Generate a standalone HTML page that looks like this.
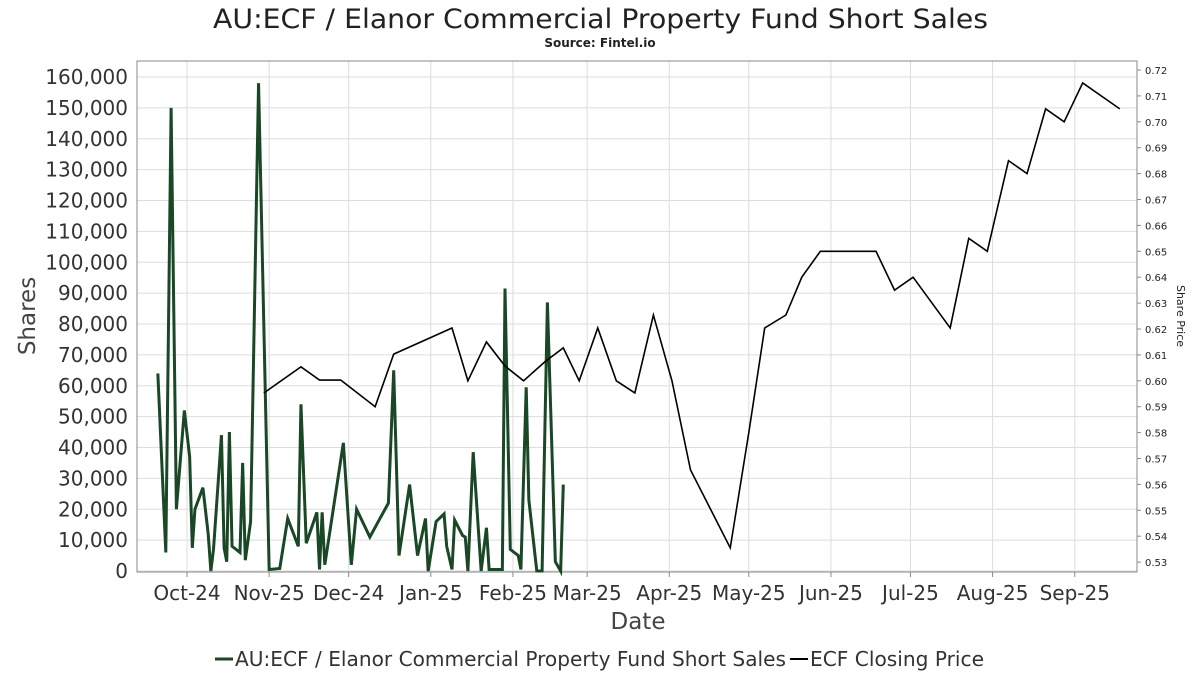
<!DOCTYPE html>
<html><head><meta charset="utf-8"><style>
body{margin:0;background:#fff;}
svg text{font-family:"DejaVu Sans","Liberation Sans",sans-serif;}
</style></head><body>
<svg id="c" width="1200" height="675">
<text x="213" y="28" textLength="775" lengthAdjust="spacingAndGlyphs" font-size="27" fill="#222">AU:ECF / Elanor Commercial Property Fund Short Sales</text>
<text x="600" y="47" text-anchor="middle" font-size="12" font-weight="bold" fill="#222">Source: Fintel.io</text>
<g id="grid"></g>
<rect x="137" y="61" width="1000" height="511" fill="none" stroke="#888"/>
<g id="marks"></g>
<g id="axes"></g>
<text transform="translate(35,316) rotate(-90)" text-anchor="middle" font-size="23" fill="#444">Shares</text>
<text transform="translate(1177,316) rotate(90)" text-anchor="middle" font-size="11" fill="#222">Share Price</text>
<text x="638" y="629" text-anchor="middle" font-size="23" fill="#444">Date</text>
<g>
<line x1="215" y1="659" x2="233" y2="659" stroke="#1a4726" stroke-width="3"/>
<text x="235" y="666" textLength="551" lengthAdjust="spacingAndGlyphs" font-size="20" fill="#333">AU:ECF / Elanor Commercial Property Fund Short Sales</text>
<line x1="790" y1="659" x2="808" y2="659" stroke="#000" stroke-width="2"/>
<text x="810" y="666" textLength="174" lengthAdjust="spacingAndGlyphs" font-size="20" fill="#333">ECF Closing Price</text>
</g>
</svg>
<script>
const monthLabels=["Oct-24","Nov-25","Dec-24","Jan-25","Feb-25","Mar-25","Apr-25","May-25","Jun-25","Jul-25","Aug-25","Sep-25"];
const monthDays=[0,31,61,92,123,151,182,212,243,273,304,335];
const yTicks=[0,10000,20000,30000,40000,50000,60000,70000,80000,90000,100000,110000,120000,130000,140000,150000,160000];
const y2Ticks=[0.53,0.54,0.55,0.56,0.57,0.58,0.59,0.60,0.61,0.62,0.63,0.64,0.65,0.66,0.67,0.68,0.69,0.70,0.71,0.72];
const shortDays=[-11,-8,-6,-4,-1,1,2,3,6,8,9,10,13,14,15,16,17,20,21,22,24,27,31,35,38,42,43,45,49,50,51,52,59,62,64,69,76,78,80,84,87,90,91,94,97,98,100,101,104,105,106,108,111,113,114,119,120,122,125,126,128,129,132,134,136,139,141,142];
const shortVals=[64000,6000,150000,20000,52000,37000,7500,20000,27000,12000,0,7000,44000,7500,3000,45000,8000,6000,35000,3500,16000,158000,500,800,17000,8000,54000,9000,19000,500,19000,2000,41500,2000,20000,11000,22000,65000,5000,28000,5000,17000,0,16000,18500,8000,500,16500,11500,11000,0,38500,0,14000,500,500,91500,7000,5000,500,59500,23000,0,0,87000,3000,0,28000];
const priceDays=[29,43,50,58,71,78,100,106,113,120,127,135,142,148,155,162,169,176,183,190,205,212,218,226,232,239,260,267,274,288,295,302,310,317,324,331,338,352];
const priceVals=[0.5953,0.6054,0.6003,0.6003,0.590,0.6103,0.6204,0.600,0.615,0.6057,0.600,0.6073,0.6127,0.600,0.6204,0.600,0.5953,0.6254,0.600,0.5656,0.5355,0.580,0.6204,0.6254,0.640,0.650,0.650,0.635,0.640,0.6204,0.655,0.650,0.685,0.680,0.705,0.700,0.715,0.705];
const NS="http://www.w3.org/2000/svg";
const X=d=>187+d*2.65, Y=v=>571-v*(494/160000), Y2=p=>70+(0.72-p)*2590;
function mk(t,a,p){const e=document.createElementNS(NS,t);for(const k in a)e.setAttribute(k,a[k]);p.appendChild(e);return e;}
const grid=document.getElementById('grid'),axes=document.getElementById('axes'),marks=document.getElementById('marks');
yTicks.forEach(v=>{
 const l=mk('line',{x1:137,x2:1137,y1:Y(v),y2:Y(v),stroke:'#ddd'},grid);
 
 
 const t=mk('text',{x:128,y:Y(v)+7,'text-anchor':'end','font-size':20,fill:'#333'},axes);
 t.textContent=v.toLocaleString('en-US');
 
 
});
y2Ticks.forEach(v=>{
 const m=mk('line',{x1:1137,x2:1141,y1:Y2(v),y2:Y2(v),stroke:'#888'},axes);
 
 
 const t=mk('text',{x:1145,y:Y2(v)+4,'font-size':10,fill:'#222'},axes);
 t.textContent=v.toFixed(2);
 
 
});
monthDays.forEach((d,i)=>{
 const l=mk('line',{x1:X(d),x2:X(d),y1:61,y2:572,stroke:'#ddd'},grid);
 
 
 const m=mk('line',{x1:X(d),x2:X(d),y1:572,y2:577,stroke:'#888'},axes);
 
 
 const t=mk('text',{x:X(d),y:600,'text-anchor':'middle','font-size':20,fill:'#333'},axes);
 t.textContent=monthLabels[i];
 
 
});
const sp=mk('polyline',{points:shortDays.map((d,i)=>X(d)+','+Y(shortVals[i])).join(' '),fill:'none',stroke:'#1a4726','stroke-width':3,'stroke-linejoin':'miter'},marks);


const pp=mk('polyline',{points:priceDays.map((d,i)=>X(d)+','+Y2(priceVals[i])).join(' '),fill:'none',stroke:'#000','stroke-width':1.6},marks);


</script>
</body></html>
